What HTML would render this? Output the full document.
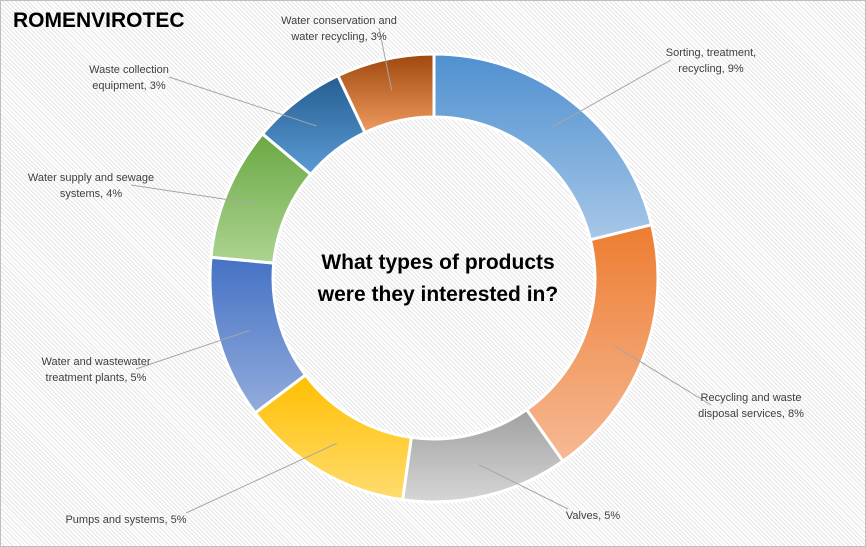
<!DOCTYPE html>
<html><head><meta charset="utf-8"><style>
body{margin:0;}
#wrap{position:relative;width:864px;height:545px;border:1px solid #bfbfbf;background:#fff repeating-linear-gradient(45deg,#fff 0,#fff 2px,#e4e4e4 2px,#e4e4e4 3px);overflow:hidden;font-family:"Liberation Sans",sans-serif;}
#title{position:absolute;left:12px;top:8px;font-size:21px;font-weight:bold;color:#000;}
svg{position:absolute;left:0;top:0;}
.lbl{font-size:11px;fill:#404040;}
</style></head><body>
<div id="wrap">
<div id="title">ROMENVIROTEC</div>
<svg id="chart" width="866" height="547">
<defs id="defs"></defs>
<text x="437" y="268" text-anchor="middle" font-size="21" font-weight="bold" fill="#000">What types of products</text>
<text x="437" y="300" text-anchor="middle" font-size="21" font-weight="bold" fill="#000">were they interested in?</text>
</svg>
</div>
<script>
const categories=["Sorting, treatment, recycling, 9%","Recycling and waste disposal services, 8%","Valves, 5%","Pumps and systems, 5%","Water and wastewater treatment plants, 5%","Water supply and sewage systems, 4%","Waste collection equipment, 3%","Water conservation and water recycling, 3%"];
const values=[9.0,8.1,5.1,5.3,5.0,4.1,2.9,3.0];
const labelLines=[["Sorting, treatment,","recycling, 9%"],["Recycling and waste","disposal services, 8%"],["Valves, 5%"],["Pumps and systems, 5%"],["Water and wastewater","treatment plants, 5%"],["Water supply and sewage","systems, 4%"],["Waste collection","equipment, 3%"],["Water conservation and","water recycling, 3%"]];
const colors=[["#4f90d0","#a7c7e8"],["#ed7d31","#f6b995"],["#a0a0a0","#d6d6d6"],["#ffbf00","#ffdc70"],["#4472c4","#93acdc"],["#6aa843","#acd491"],["#255e91","#5b9bd5"],["#9e480e","#ef9a5e"]];
const labelPos=[[710,55,"middle"],[750,400,"middle"],[592,518,"middle"],[125,522,"middle"],[95,364,"middle"],[90,180,"middle"],[128,72,"middle"],[338,23,"middle"]];
const cx=433,cy=277,R=224,r=161;
const svg=document.getElementById('chart'),defs=document.getElementById('defs');
const NS="http://www.w3.org/2000/svg";
const total=values.reduce((a,b)=>a+b,0);
function pt(a,rad){return [cx+rad*Math.sin(a),cy-rad*Math.cos(a)];}
let acc=0;
values.forEach((v,i)=>{
 const a0=acc/total*2*Math.PI,a1=(acc+v)/total*2*Math.PI;acc+=v;
 const g=document.createElementNS(NS,'linearGradient');g.id='g'+i;g.setAttribute('x1','0');g.setAttribute('y1','0');g.setAttribute('x2','0');g.setAttribute('y2','1');
 g.innerHTML='<stop offset="0" stop-color="'+colors[i][0]+'"/><stop offset="1" stop-color="'+colors[i][1]+'"/>';defs.appendChild(g);
 const large=(a1-a0)>Math.PI?1:0;
 const p0=pt(a0,R),p1=pt(a1,R),q1=pt(a1,r),q0=pt(a0,r);
 const p=document.createElementNS(NS,'path');
 p.setAttribute('d',`M${p0} A${R},${R} 0 ${large} 1 ${p1} L${q1} A${r},${r} 0 ${large} 0 ${q0} Z`);
 p.setAttribute('fill','url(#g'+i+')');p.setAttribute('stroke','#fff');p.setAttribute('stroke-width','3');
 
 
 svg.insertBefore(p,svg.children[1]);
 const am=(a0+a1)/2,m=pt(am,192);
 const lp=labelPos[i];
 const lx=lp[0]+(m[0]>lp[0]?40:-40), ly=lp[1]+(labelLines[i].length>1?4:-4);
 const ln=document.createElementNS(NS,'line');
 ln.setAttribute('x1',m[0]);ln.setAttribute('y1',m[1]);ln.setAttribute('x2',i==2?lp[0]-25:(i==3?lp[0]+60:lx));ln.setAttribute('y2',i==2||i==3?lp[1]-10:ly);
 ln.setAttribute('stroke','#a6a6a6');ln.setAttribute('stroke-width','1');
 
 
 svg.appendChild(ln);
 const t=document.createElementNS(NS,'text');t.setAttribute('class','lbl');t.setAttribute('text-anchor',lp[2]);
 
 
 labelLines[i].forEach((s,k)=>{const ts=document.createElementNS(NS,'tspan');ts.setAttribute('x',lp[0]);ts.setAttribute('y',lp[1]+k*16);ts.textContent=s;t.appendChild(ts);});
 svg.appendChild(t);
});
</script>
</body></html>
